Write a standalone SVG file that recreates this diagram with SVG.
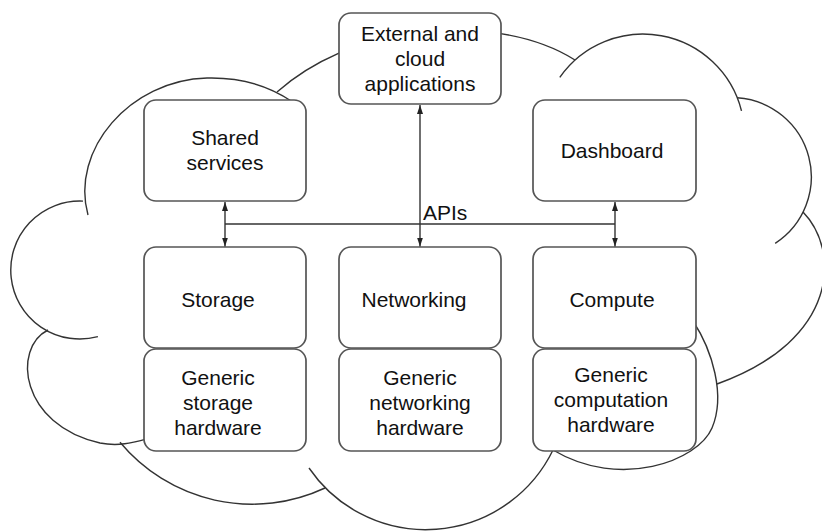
<svg xmlns="http://www.w3.org/2000/svg" width="822" height="532" viewBox="0 0 822 532">
<style>
.cloud{fill:none;stroke:#333;stroke-width:1.4}
.box{fill:#fff;stroke:#555;stroke-width:1.7}
.lbl{font-family:"Liberation Sans",Arial,sans-serif;font-size:21px;fill:#111;text-anchor:middle}
.conn{fill:none;stroke:#333;stroke-width:1.4}
</style>
<defs>
<marker id="ah" markerUnits="userSpaceOnUse" markerWidth="10" markerHeight="7" refX="9" refY="3" orient="auto-start-reverse">
<path d="M0,0 L9,3 L0,6 z" fill="#222"/>
</marker>
</defs>
<rect width="822" height="532" fill="#fff"/>
<g id="cloud">
<path class="cloud" d="M 88 215 C 70 150, 130 80, 207 78 C 245 77, 272 88, 292 101.5"/>
<path class="cloud" d="M 277 92 Q 330 45 420 30 Q 520 25 575 60"/>
<path class="cloud" d="M 559.8 77.3 A 101.6 101.6 0 0 1 741.5 110.8"/>
<path class="cloud" d="M 737.2 97.8 A 79.2 79.2 0 0 1 775.2 243.3"/>
<path class="cloud" d="M 803 212 C 840 250, 840 340, 717 384"/>
<path class="cloud" d="M 693 321 C 712 350, 726 395, 712 428 C 698 461, 620 490, 553 450"/>
<path class="cloud" d="M 309 468 A 141.4 141.4 0 0 0 553 450"/>
<path class="cloud" d="M 120 442.3 A 172 172 0 0 0 325 488"/>
<path class="cloud" d="M 48 330 C 12 348, 20 425, 100 443 C 120 447, 135 442, 150 438"/>
<path class="cloud" d="M 83 201.1 A 69 69 0 1 0 97.9 336.6"/>
</g>
<g id="external">
<rect class="box" x="339" y="13" width="162" height="91" rx="12"/>
<text class="lbl" x="420" y="41">External and</text>
<text class="lbl" x="420" y="66">cloud</text>
<text class="lbl" x="420" y="91">applications</text>
</g>
<g id="shared">
<rect class="box" x="144" y="100" width="162" height="101" rx="12"/>
<text class="lbl" x="225" y="145">Shared</text>
<text class="lbl" x="225" y="170">services</text>
</g>
<g id="dashboard">
<rect class="box" x="533" y="100" width="163" height="101" rx="12"/>
<text class="lbl" x="612" y="158">Dashboard</text>
</g>
<g id="storage">
<rect class="box" x="144" y="247" width="162" height="101" rx="12"/>
<text class="lbl" x="218" y="307">Storage</text>
</g>
<g id="networking">
<rect class="box" x="339" y="247" width="162" height="101" rx="12"/>
<text class="lbl" x="414" y="307">Networking</text>
</g>
<g id="compute">
<rect class="box" x="533" y="247" width="163" height="101" rx="12"/>
<text class="lbl" x="612" y="307">Compute</text>
</g>
<g id="storage-hw">
<rect class="box" x="144" y="349" width="162" height="102" rx="12"/>
<text class="lbl" x="218" y="385">Generic</text>
<text class="lbl" x="218" y="410">storage</text>
<text class="lbl" x="218" y="435">hardware</text>
</g>
<g id="networking-hw">
<rect class="box" x="339" y="349" width="162" height="102" rx="12"/>
<text class="lbl" x="420" y="385">Generic</text>
<text class="lbl" x="420" y="410">networking</text>
<text class="lbl" x="420" y="435">hardware</text>
</g>
<g id="compute-hw">
<rect class="box" x="533" y="349" width="163" height="102" rx="12"/>
<text class="lbl" x="611" y="382">Generic</text>
<text class="lbl" x="611" y="407">computation</text>
<text class="lbl" x="611" y="432">hardware</text>
</g>
<g id="connectors">
<line class="conn" x1="225" y1="224" x2="615" y2="224"/>
<line class="conn" x1="225" y1="202" x2="225" y2="246.5" marker-start="url(#ah)" marker-end="url(#ah)"/>
<line class="conn" x1="420" y1="105" x2="420" y2="246.5" marker-start="url(#ah)" marker-end="url(#ah)"/>
<line class="conn" x1="615" y1="202" x2="615" y2="246.5" marker-start="url(#ah)" marker-end="url(#ah)"/>
<text x="423" y="220" style="font-family:'Liberation Sans',Arial,sans-serif;font-size:21px;fill:#111">APIs</text>
</g>
</svg>
